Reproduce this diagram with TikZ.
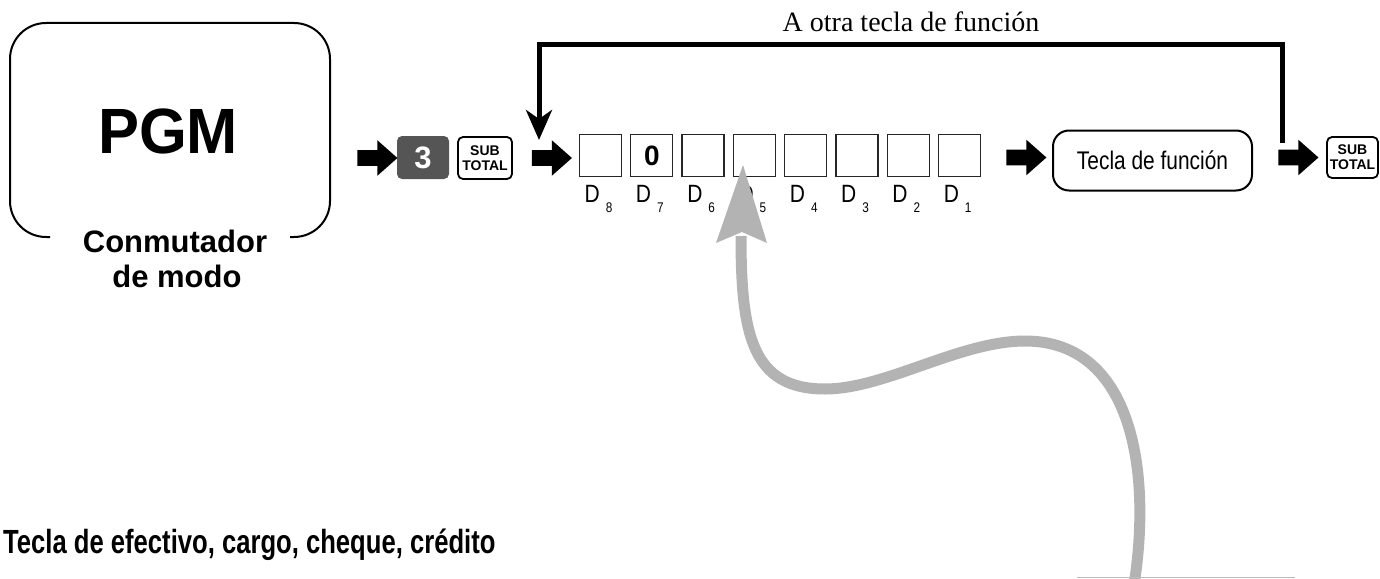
\documentclass[tikz,border=0pt]{standalone}
\usepackage{fontspec}
\setmainfont{Liberation Sans}
\newfontfamily\serifA{Liberation Serif}
\usetikzlibrary{shapes.arrows,arrows.meta}
\definecolor{keygrey}{HTML}{555555}
\definecolor{curvegrey}{HTML}{B3B3B3}
\tikzset{
  blockarr/.style={single arrow, fill=black, draw=none, inner xsep=0pt, inner ysep=7.6pt,
    minimum height=40pt, single arrow head extend=10pt, single arrow tip angle=83, single arrow head indent=0pt},
  keybox/.style={draw=black, line width=1.8pt, rounded corners=5pt, inner sep=0pt, minimum width=54pt, minimum height=42pt,
    align=center, font=\fontsize{14}{14.7}\selectfont\bfseries},
  numkey/.style={fill=keygrey, rounded corners=5pt, inner sep=0pt, minimum width=52pt, minimum height=43pt,
    text=white, font=\fontsize{31}{31}\selectfont\bfseries},
  dbox/.style={draw=black!85, line width=1.3pt, inner sep=0pt, minimum size=42pt},
  dlabel/.style={anchor=base, inner sep=0pt, font=\fontsize{25}{25}\selectfont},
  funcbox/.style={draw=black, line width=2pt, rounded corners=16pt, minimum width=199pt, minimum height=60pt,
    inner sep=0pt, font=\fontsize{25.5}{25.5}\selectfont},
  loopline/.style={line width=5pt, line join=miter, -{Stealth[length=30pt,width=26pt,inset=9pt]}},
  greycurve/.style={line width=11pt, draw=curvegrey},
}
\newcommand{\dlab}[1]{\scalebox{0.84}[1]{D}\hspace{6pt}\raisebox{-10pt}{\fontsize{14}{14}\selectfont\scalebox{0.84}[1]{#1}}}
\begin{document}
\begin{tikzpicture}[x=1pt,y=-1pt]
\useasboundingbox (0,0) rectangle (1380,578);
\fill[white] (0,0) rectangle (1380,578);

% mode switch box
\draw[line width=2pt, rounded corners=36pt] (50,237) -- (10,237) -- (10,23) -- (330,23) -- (330,237) -- (290,237);
\node[anchor=base, inner sep=0pt] (pgm) at (168,153) {\fontsize{64}{64}\selectfont\bfseries\scalebox{0.96}[1]{PGM}};
\node[anchor=base, inner sep=0pt] (conm) at (175,252) {\fontsize{31}{31}\selectfont\bfseries Conmutador};
\node[anchor=base, inner sep=0pt] (demodo) at (177,287) {\fontsize{31}{31}\selectfont\bfseries de modo};

% first sequence
\node[blockarr] (a1) at (373,158) {};
\node[numkey] (k3) at (423,157.5) {3};
\node[keybox] (st1) at (485,158) {SUB\\TOTAL};
\node[blockarr] (a2) at (547.5,158) {};

% digit boxes
\foreach \i/\d [count=\n from 0] in {1/8,2/7,3/6,4/5,5/4,6/3,7/2,8/1} {
  \node[dbox] (b\i) at ({600.5+51.3*\n},155.5) {};
  \node[dlabel] (l\i) at ({598.5+51.3*\n},202) {\dlab{\d}};
}
\node[inner sep=0pt] (zero) at (b2.center) {\fontsize{28}{28}\selectfont\bfseries 0};

% second sequence
\node[blockarr] (a3) at (1022,157.5) {};
\node[funcbox] (func) at (1152.5,160.5) {\scalebox{0.82}[1]{Tecla de función}};
\node[blockarr] (a4) at (1294,157.5) {};
\node[keybox, minimum width=51pt, minimum height=41pt] (st2) at (1352.5,157.5) {SUB\\TOTAL};

% loop back
\coordinate (ls) at (1282,143);
\coordinate (le) at (539,140);
\coordinate (tr) at (1282,44.5);
\coordinate (tl) at (539,44.5);
\draw[loopline] (ls) -- (tr) -- (tl) -- (le);
\node[anchor=base, inner sep=0pt] (otra) at (911,32) {\serifA\fontsize{28}{28}\selectfont A otra tecla de función};

% grey curved arrow
\coordinate (cstart) at (1134,585);
\coordinate (cpeak) at (1025,341);
\coordinate (ctrough) at (825,389);
\coordinate (cend) at (741,236);
\draw[greycurve] (cstart) .. controls (1152,470) and (1132,341) .. (cpeak)
  .. controls (960,341) and (885,389) .. (ctrough)
  .. controls (752,389) and (741,335) .. (cend);
\fill[curvegrey] (743,165) -- (767,243) -- (742,232) -- (716,243) -- cycle;
\draw[curvegrey!90, line width=1pt] (1077,577.5) -- (1295,577.5);

% bottom caption
\node[anchor=base west, inner sep=0pt] (cap) at (3,553) {\scalebox{0.765}[1]{\fontsize{33.5}{33.5}\selectfont\bfseries Tecla de efectivo, cargo, cheque, crédito}};
\end{tikzpicture}
\end{document}
